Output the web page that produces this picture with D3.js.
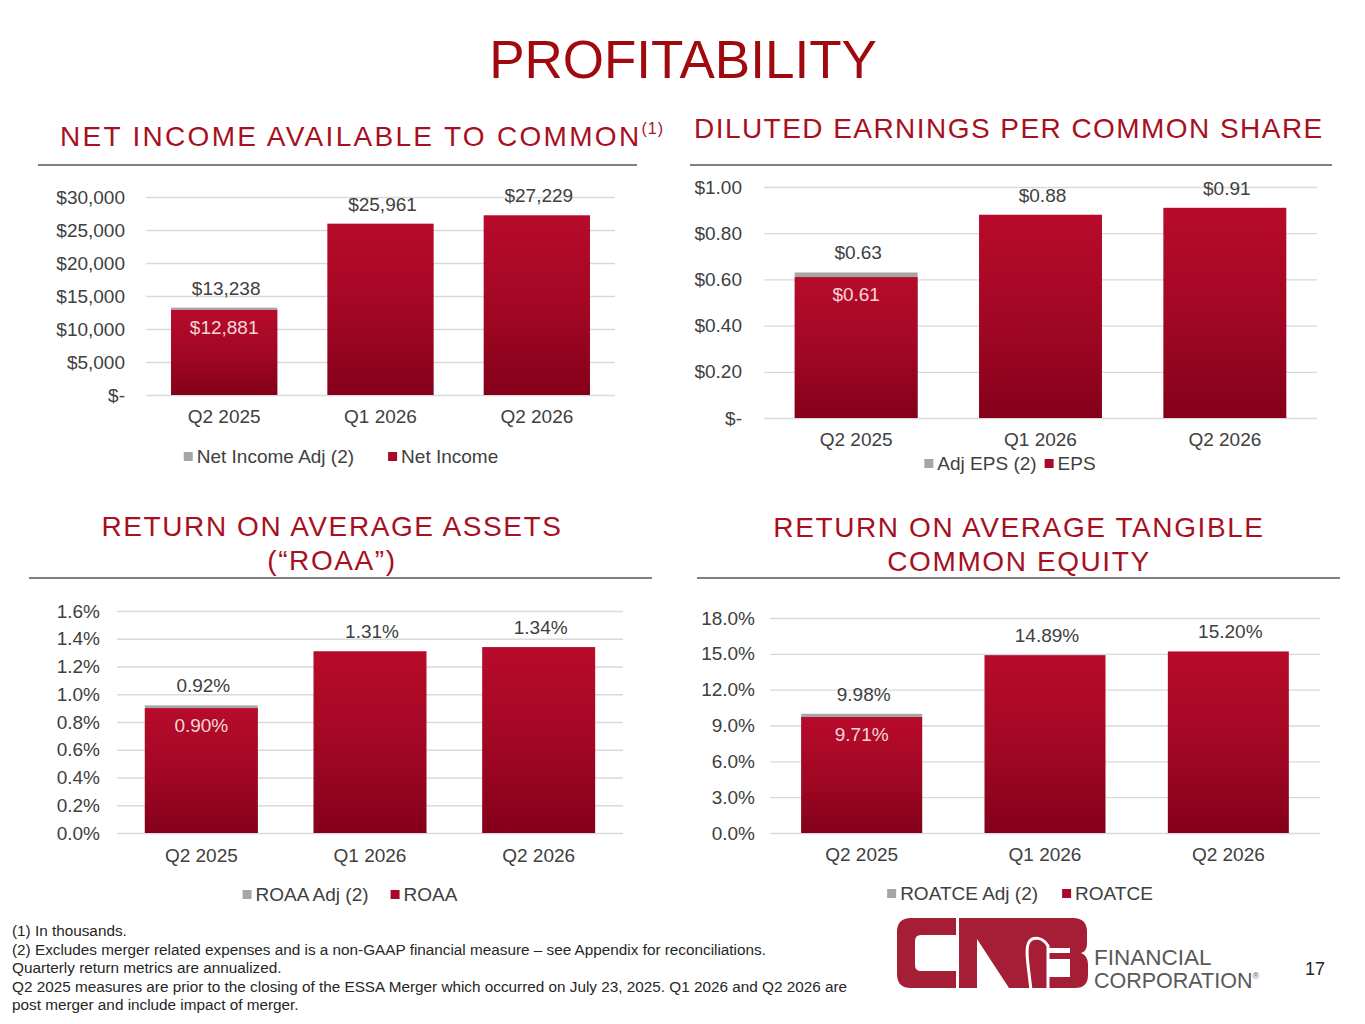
<!DOCTYPE html>
<html>
<head>
<meta charset="utf-8">
<script src="https://cdn.jsdelivr.net/npm/d3@7"></script>
<style>
  body { margin: 0; background: #fff; }
  svg { display: block; font-family: "Liberation Sans", Arial, sans-serif; }
</style>
</head>
<body>
<script>
// quarters shown in every panel
var categories = ["Q2 2025", "Q1 2026", "Q2 2026"];

// net income available to common (in thousands)
var netIncome = [12881, 25961, 27229];
var netIncomeAdj = [13238, null, null];
var netTicks = [0, 5000, 10000, 15000, 20000, 25000, 30000];

// diluted eps
var eps = [0.61, 0.88, 0.91];
var epsAdj = [0.63, null, null];
var epsTicks = [0, 0.2, 0.4, 0.6, 0.8, 1.0];

// return on average assets (%)
var roaa = [0.90, 1.31, 1.34];
var roaaAdj = [0.92, null, null];
var roaaTicks = [0, 0.2, 0.4, 0.6, 0.8, 1.0, 1.2, 1.4, 1.6];

// return on average tangible common equity (%)
var roatce = [9.71, 14.89, 15.20];
var roatceAdj = [9.98, null, null];
var roatceTicks = [0, 3, 6, 9, 12, 15, 18];

var footnotes = [
  "(1) In thousands.",
  "(2) Excludes merger related expenses and is a non-GAAP financial measure \u2013 see Appendix for reconciliations.",
  "Quarterly return metrics are annualized.",
  "Q2 2025 measures are prior to the closing of the ESSA Merger which occurred on July 23, 2025. Q1 2026 and Q2 2026 are",
  "post merger and include impact of merger."
];

var W = 1365, H = 1024;
var titleRed = "#A00A0F";
var headRed = "#A6101F";
var textGray = "#404040";
var adjGray = "#A6A6A6";
var fs = 19;

var svg = d3.select("body").append("svg")
  .attr("width", W)
  .attr("height", H);

var defs = svg.append("defs");
var grad = defs.append("linearGradient")
  .attr("id", "barGrad")
  .attr("x1", 0).attr("y1", 0).attr("x2", 0).attr("y2", 1);
grad.append("stop").attr("offset", "0%").attr("stop-color", "#B80B2B");
grad.append("stop").attr("offset", "55%").attr("stop-color", "#A00723");
grad.append("stop").attr("offset", "100%").attr("stop-color", "#84001A");

// page title
svg.append("text")
  .attr("x", 683)
  .attr("y", 78)
  .attr("text-anchor", "middle")
  .attr("font-size", 53)
  .attr("fill", titleRed)
  .text("PROFITABILITY");

// panel headings
function heading(lines, x, ys, anchor, ls) {
  lines.forEach(function(l, i) {
    svg.append("text")
      .attr("x", x)
      .attr("y", ys[i])
      .attr("text-anchor", anchor)
      .attr("font-size", 28)
      .attr("letter-spacing", ls)
      .attr("fill", headRed)
      .text(l);
  });
}

var h1 = svg.append("text")
  .attr("x", 60)
  .attr("y", 146)
  .attr("font-size", 28)
  .attr("letter-spacing", 2.3)
  .attr("fill", headRed);
h1.append("tspan").text("NET INCOME AVAILABLE TO COMMON");
h1.append("tspan")
  .attr("font-size", 16)
  .attr("dy", -12)
  .attr("letter-spacing", 1)
  .text("(1)");

heading(["DILUTED EARNINGS PER COMMON SHARE"], 694, [138], "start", 1.45);
heading(["RETURN ON AVERAGE ASSETS", "(\u201CROAA\u201D)"], 332, [536, 570], "middle", 1.6);
heading(["RETURN ON AVERAGE TANGIBLE", "COMMON EQUITY"], 1019, [537, 571], "middle", 1.6);

// separator rules under headings
var rules = [[38, 637, 165], [690, 1332, 165], [29, 652, 578], [697, 1340, 578]];
svg.selectAll("line.rule")
  .data(rules)
  .enter()
  .append("line")
  .attr("class", "rule")
  .attr("x1", function(d) { return d[0]; })
  .attr("x2", function(d) { return d[1]; })
  .attr("y1", function(d) { return d[2]; })
  .attr("y2", function(d) { return d[2]; })
  .attr("stroke", "#7F7F7F")
  .attr("stroke-width", 2);

function drawChart(c) {
  var g = svg.append("g");

  var x = d3.scaleBand()
    .domain(categories)
    .range([c.left, c.right])
    .paddingInner(c.pad)
    .paddingOuter(c.pad / 2);

  var y = d3.scaleLinear()
    .domain([0, c.ticks[c.ticks.length - 1]])
    .range([c.bottom, c.top]);

  // gridlines
  g.append("g")
    .attr("transform", "translate(" + c.left + ",0)")
    .call(d3.axisLeft(y).tickValues(c.ticks).tickSize(-(c.right - c.left)).tickFormat(""))
    .call(function(s) {
      s.select(".domain").remove();
      s.selectAll("line").attr("stroke", "#D9D9D9").attr("stroke-width", 1.3);
    });

  // y labels
  g.append("g")
    .attr("transform", "translate(" + c.left + ",0)")
    .call(d3.axisLeft(y).tickValues(c.ticks).tickSize(0).tickPadding(c.yPad).tickFormat(c.tickFmt))
    .call(function(s) {
      s.select(".domain").remove();
      s.selectAll("text")
        .attr("font-size", fs)
        .attr("font-family", "Liberation Sans, Arial, sans-serif")
        .attr("fill", textGray);
    });

  // x labels
  g.append("g")
    .attr("transform", "translate(0," + c.bottom + ")")
    .call(d3.axisBottom(x).tickSize(0).tickPadding(c.xPad))
    .call(function(s) {
      s.select(".domain").remove();
      s.selectAll("text")
        .attr("font-size", fs)
        .attr("font-family", "Liberation Sans, Arial, sans-serif")
        .attr("fill", textGray);
    });

  var rows = categories.map(function(cat, i) {
    return { cat: cat, v: c.values[i], adj: c.adj[i] };
  });

  // adjusted bars sit behind the reported ones
  g.selectAll("rect.adj")
    .data(rows.filter(function(d) { return d.adj != null; }))
    .enter()
    .append("rect")
    .attr("class", "adj")
    .attr("x", function(d) { return x(d.cat); })
    .attr("y", function(d) { return y(d.adj); })
    .attr("width", x.bandwidth())
    .attr("height", function(d) { return c.bottom - y(d.adj); })
    .attr("fill", adjGray);

  g.selectAll("rect.main")
    .data(rows)
    .enter()
    .append("rect")
    .attr("class", "main")
    .attr("x", function(d) { return x(d.cat); })
    .attr("y", function(d) { return y(d.v); })
    .attr("width", x.bandwidth())
    .attr("height", function(d) { return c.bottom - y(d.v); })
    .attr("fill", "url(#barGrad)");

  // labels above bars
  g.selectAll("text.top")
    .data(rows)
    .enter()
    .append("text")
    .attr("class", "top")
    .attr("x", function(d) { return x(d.cat) + x.bandwidth() / 2 + 2; })
    .attr("y", function(d) { return y(d.adj != null ? d.adj : d.v) - 13; })
    .attr("text-anchor", "middle")
    .attr("font-size", fs)
    .attr("fill", textGray)
    .text(function(d) { return c.valFmt(d.adj != null ? d.adj : d.v); });

  // reported value inside the bar when an adjusted figure exists
  g.selectAll("text.inner")
    .data(rows.filter(function(d) { return d.adj != null; }))
    .enter()
    .append("text")
    .attr("class", "inner")
    .attr("x", function(d) { return x(d.cat) + x.bandwidth() / 2; })
    .attr("y", function(d) { return y(d.v) + 24; })
    .attr("text-anchor", "middle")
    .attr("font-size", fs)
    .attr("fill", "#F4D6DA")
    .text(function(d) { return c.valFmt(d.v); });

  // legend
  var lg = g.append("g");
  var items = [{ label: c.legend[0], color: adjGray }, { label: c.legend[1], color: "#A8082A" }];
  var xpos = 0;
  items.forEach(function(it, i) {
    var ig = lg.append("g").attr("transform", "translate(" + xpos + ",0)");
    ig.append("rect")
      .attr("x", 0).attr("y", -11)
      .attr("width", 9).attr("height", 9)
      .attr("fill", it.color);
    var t = ig.append("text")
      .attr("x", 13)
      .attr("y", 0)
      .attr("font-size", fs)
      .attr("fill", textGray)
      .text(it.label);
    xpos += 13 + t.node().getComputedTextLength() + c.legendGap;
  });
  var lw = xpos - c.legendGap;
  lg.attr("transform", "translate(" + (c.legendCx - lw / 2) + "," + c.legendY + ")");
}

var money = d3.format(",");
var two = d3.format(".2f");
var one = d3.format(".1f");

drawChart({
  values: netIncome, adj: netIncomeAdj, ticks: netTicks,
  left: 146, right: 615, top: 197, bottom: 395, pad: 0.32,
  yPad: 21, xPad: 15,
  tickFmt: function(d) { return d === 0 ? "$-" : "$" + money(d); },
  valFmt: function(d) { return "$" + money(d); },
  legend: ["Net Income Adj (2)", "Net Income"],
  legendCx: 341, legendY: 463, legendGap: 34
});

drawChart({
  values: eps, adj: epsAdj, ticks: epsTicks,
  left: 764, right: 1317, top: 187, bottom: 418, pad: 0.333,
  yPad: 22, xPad: 15,
  tickFmt: function(d) { return d === 0 ? "$-" : "$" + two(d); },
  valFmt: function(d) { return "$" + two(d); },
  legend: ["Adj EPS (2)", "EPS"],
  legendCx: 1010, legendY: 470, legendGap: 8
});

drawChart({
  values: roaa, adj: roaaAdj, ticks: roaaTicks,
  left: 117, right: 623, top: 611, bottom: 833, pad: 0.33,
  yPad: 17, xPad: 16,
  tickFmt: function(d) { return one(d) + "%"; },
  valFmt: function(d) { return two(d) + "%"; },
  legend: ["ROAA Adj (2)", "ROAA"],
  legendCx: 350, legendY: 901, legendGap: 22
});

drawChart({
  values: roatce, adj: roatceAdj, ticks: roatceTicks,
  left: 770, right: 1320, top: 618, bottom: 833, pad: 0.34,
  yPad: 15, xPad: 15,
  tickFmt: function(d) { return one(d) + "%"; },
  valFmt: function(d) { return two(d) + "%"; },
  legend: ["ROATCE Adj (2)", "ROATCE"],
  legendCx: 1020, legendY: 900, legendGap: 24
});

// footnotes
svg.selectAll("text.note")
  .data(footnotes)
  .enter()
  .append("text")
  .attr("class", "note")
  .attr("x", 12)
  .attr("y", function(d, i) { return 936 + i * 18.6; })
  .attr("font-size", 15.3)
  .attr("fill", "#262626")
  .text(function(d) { return d; });

// logo
var logo = svg.append("g").attr("transform", "translate(897,918)");
var logoRed = "#A51E36";
logo.append("path")
  .attr("fill", logoRed)
  .attr("d", "M59,0 H14 Q0,0 0,14 V56 Q0,70 14,70 H59 V53 H24 Q18,53 18,47 V23 Q18,17 24,17 H59 Z");
// N and B share a top band
logo.append("path")
  .attr("fill", logoRed)
  .attr("d", "M62,0 H176 Q190,0 190,14 V26 Q190,33 184,35 Q191,38 191,46 V57 Q191,70 178,70 H112 L80,21 V70 H62 Z");
// white cuts: swoosh between N and B stem, B counters
logo.append("path")
  .attr("fill", "none")
  .attr("stroke", "#fff")
  .attr("stroke-width", 3)
  .attr("d", "M134,72 C131,46 128,30 132,24 C136,18 146,19 151,28 V72");
logo.append("rect").attr("x", 151).attr("y", 30).attr("width", 22).attr("height", 5).attr("fill", "#fff");
logo.append("rect").attr("x", 151).attr("y", 41).attr("width", 22).attr("height", 18).attr("fill", "#fff");

svg.append("text")
  .attr("x", 1094).attr("y", 965)
  .attr("font-size", 22.5)
  .attr("fill", "#58595B")
  .text("FINANCIAL");
var corp = svg.append("text")
  .attr("x", 1094).attr("y", 988)
  .attr("font-size", 21.5)
  .attr("fill", "#58595B");
corp.append("tspan").text("CORPORATION");
corp.append("tspan").attr("font-size", 9).attr("dy", -9).text("\u00AE");

svg.append("text")
  .attr("x", 1305).attr("y", 975)
  .attr("font-size", 18)
  .attr("fill", "#262626")
  .text("17");
</script>
</body>
</html>
